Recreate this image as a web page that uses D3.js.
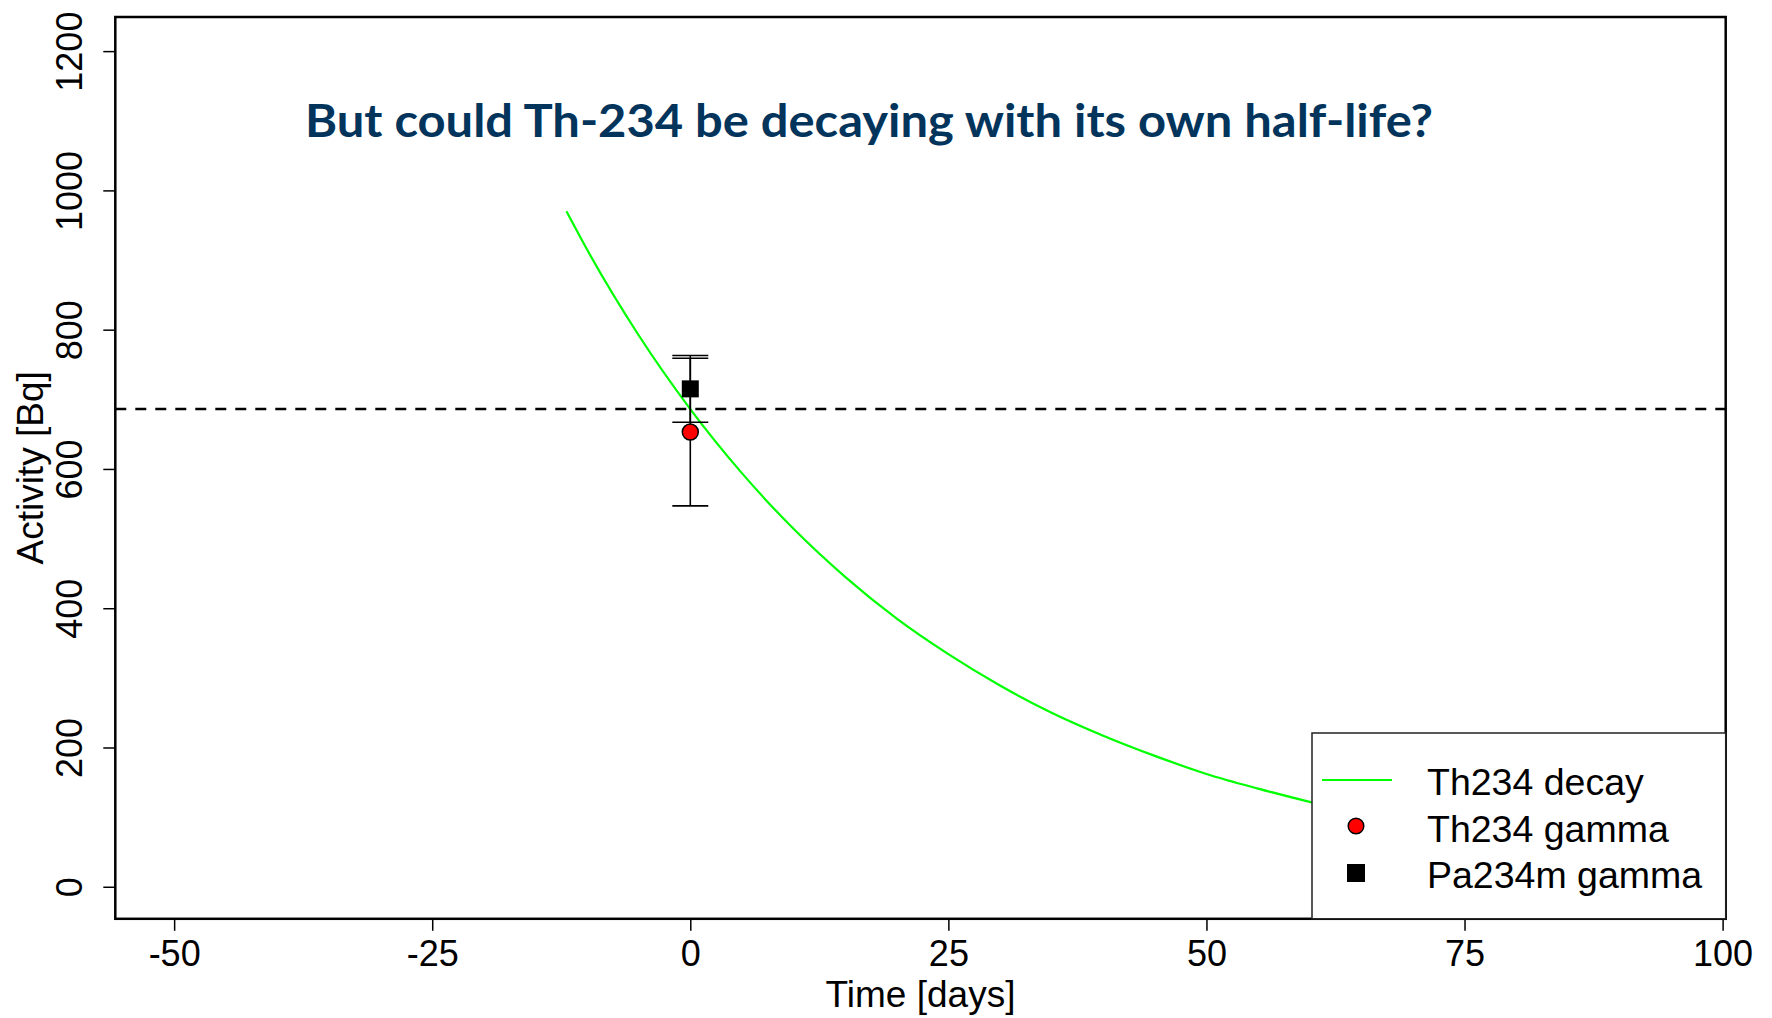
<!DOCTYPE html>
<html>
<head>
<meta charset="utf-8">
<script src="https://cdn.jsdelivr.net/npm/d3@7"></script>
<style>
    body { margin: 0; background: #ffffff; }
    svg { display: block; font-family: "Liberation Sans", Arial, sans-serif; }
</style>
</head>
<body>
<svg id="chart" width="1772" height="1018"></svg>
<script>

/*    ========    DATA    =========    */

// Th234 decay curve (time [days], activity [Bq])
var decayTime     = [-12, -10, -5, 0, 5, 10, 15, 20, 25, 30, 35, 40, 45, 50, 55, 60, 65, 70, 80, 90, 100];
var decayActivity = [970, 915, 792, 686, 594, 514, 445, 385, 334, 289, 250, 217, 188, 162, 141, 122, 105, 91, 68, 51, 38];

// measured points at t = 0
var gammaNames  = ["Th234 gamma", "Pa234m gamma"];
var gammaTime   = [0, 0];
var gammaValue  = [653, 715];
var gammaError  = [106, 48];

var equilibrium = 686;   // dashed horizontal line

var legendNames = ["Th234 decay", "Th234 gamma", "Pa234m gamma"];

var xTicks = [-50, -25, 0, 25, 50, 75, 100];
var yTicks = [0, 200, 400, 600, 800, 1000, 1200];

var titleText = "But could Th-234 be decaying with its own half-life?";

/*    ========    SETTINGS    =========    */

var svg = d3.select("#chart");

var X_RANGE = [-55.7, 100.3];
var Y_RANGE = [-46, 1249];

// NB: `top` is a read-only window global, hence the prefixed names
var plotLeft = 115.3, plotRight = 1725.7, plotTop = 17, plotBottom = 918.8;

var scale_x = d3.scaleLinear().domain(X_RANGE).range([plotLeft, plotRight]);
var scale_y = d3.scaleLinear().domain(Y_RANGE).range([plotBottom, plotTop]);

var defs = svg.append("defs");
defs.append("clipPath")
    .attr("id", "mask")
    .append("rect")
    .attr("x", plotLeft)
    .attr("y", plotTop)
    .attr("width", plotRight - plotLeft)
    .attr("height", plotBottom - plotTop);

/*    ========    AXES    =========    */

// plain hyphen for negatives, like the original
var fmt = function(d) { return String(d); };

var axis_x = d3.axisBottom(scale_x).tickValues(xTicks).tickSize(12).tickFormat(fmt);
var axis_y = d3.axisLeft(scale_y).tickValues(yTicks).tickSize(12).tickFormat(fmt);

var gx = svg.append("g")
    .attr("transform", "translate(0," + plotBottom + ")")
    .call(axis_x);
gx.select(".domain").remove();
gx.selectAll("line").attr("stroke", "#000").attr("stroke-width", 1.5);
gx.selectAll("text")
    .attr("y", 47)
    .attr("dy", 0)
    .attr("fill", "#000")
    .style("font-size", "36px")
    .style("font-family", "'Liberation Sans', Arial, sans-serif");

var gy = svg.append("g")
    .attr("transform", "translate(" + plotLeft + ",0)")
    .call(axis_y);
gy.select(".domain").remove();
gy.selectAll("line").attr("stroke", "#000").attr("stroke-width", 1.5);
gy.selectAll("text")
    .attr("x", 0)
    .attr("dy", 0)
    .attr("text-anchor", "middle")
    .attr("transform", "translate(-33,0) rotate(-90)")
    .attr("fill", "#000")
    .style("font-size", "36px")
    .style("font-family", "'Liberation Sans', Arial, sans-serif");

// axis titles
svg.append("text")
    .attr("x", (plotLeft + plotRight) / 2)
    .attr("y", 1007)
    .attr("text-anchor", "middle")
    .style("font-size", "37px")
    .text("Time [days]");

svg.append("text")
    .attr("transform", "translate(43," + ((plotTop + plotBottom) / 2) + ") rotate(-90)")
    .attr("text-anchor", "middle")
    .style("font-size", "37px")
    .text("Activity [Bq]");

/*    ========    PLOTS    =========    */

var plots = svg.append("g").attr("clip-path", "url(#mask)");

// equilibrium level
plots.append("line")
    .attr("x1", plotLeft)
    .attr("x2", plotRight)
    .attr("y1", scale_y(equilibrium))
    .attr("y2", scale_y(equilibrium))
    .attr("stroke", "#000")
    .attr("stroke-width", 2.5)
    .attr("stroke-dasharray", "11,9");

// Th234 decay
var line_decay = d3.line()
    .x(function(d, i) { return scale_x(decayTime[i]); })
    .y(function(d) { return scale_y(d); })
    .curve(d3.curveMonotoneX);

plots.append("path")
    .datum(decayActivity)
    .attr("d", line_decay)
    .attr("fill", "none")
    .attr("stroke", "#00ff00")
    .attr("stroke-width", 2.2);

// error bars
var bars = plots.selectAll(".err")
    .data(gammaValue)
    .enter().append("g")
    .attr("class", "err")
    .attr("stroke", "#000")
    .attr("stroke-width", 1.6);

bars.append("line")
    .attr("x1", function(d, i) { return scale_x(gammaTime[i]); })
    .attr("x2", function(d, i) { return scale_x(gammaTime[i]); })
    .attr("y1", function(d, i) { return scale_y(d - gammaError[i]); })
    .attr("y2", function(d, i) { return scale_y(d + gammaError[i]); });

[-1, 1].forEach(function(s) {
    bars.append("line")
        .attr("x1", function(d, i) { return scale_x(gammaTime[i]) - 18; })
        .attr("x2", function(d, i) { return scale_x(gammaTime[i]) + 18; })
        .attr("y1", function(d, i) { return scale_y(d + s * gammaError[i]); })
        .attr("y2", function(d, i) { return scale_y(d + s * gammaError[i]); });
});

// Th234 gamma (circle)
plots.append("circle")
    .attr("cx", scale_x(gammaTime[0]))
    .attr("cy", scale_y(gammaValue[0]))
    .attr("r", 8)
    .attr("fill", "#ff0000")
    .attr("stroke", "#000")
    .attr("stroke-width", 1.5);

// Pa234m gamma (square)
plots.append("rect")
    .attr("x", scale_x(gammaTime[1]) - 8.5)
    .attr("y", scale_y(gammaValue[1]) - 8.5)
    .attr("width", 17)
    .attr("height", 17)
    .attr("fill", "#000");

/*    ========    FRAME + LEGEND    =========    */

svg.append("rect")
    .attr("x", plotLeft)
    .attr("y", plotTop)
    .attr("width", plotRight - plotLeft)
    .attr("height", plotBottom - plotTop)
    .attr("fill", "none")
    .attr("stroke", "#000")
    .attr("stroke-width", 2.5);

var legend = svg.append("g");

legend.append("rect")
    .attr("x", 1312)
    .attr("y", 733)
    .attr("width", plotRight - 1312)
    .attr("height", plotBottom - 733)
    .attr("fill", "#fff")
    .attr("stroke", "#222")
    .attr("stroke-width", 1.5);

legend.append("line")
    .attr("x1", 1322).attr("x2", 1392)
    .attr("y1", 780).attr("y2", 780)
    .attr("stroke", "#00ff00")
    .attr("stroke-width", 2.2);

legend.append("circle")
    .attr("cx", 1356).attr("cy", 826)
    .attr("r", 7.8)
    .attr("fill", "#ff0000")
    .attr("stroke", "#000")
    .attr("stroke-width", 1.5);

legend.append("rect")
    .attr("x", 1347).attr("y", 864)
    .attr("width", 18).attr("height", 18)
    .attr("fill", "#000");

legend.selectAll(".ltext")
    .data(legendNames)
    .enter().append("text")
    .attr("class", "ltext")
    .attr("x", 1427)
    .attr("y", function(d, i) { return 795 + i * 46.5; })
    .style("font-size", "37.5px")
    .text(function(d) { return d; });

/*    ========    TITLE    =========    */

svg.append("text")
    .attr("x", 305)
    .attr("y", 137)
    .attr("textLength", 1128)
    .attr("lengthAdjust", "spacingAndGlyphs")
    .attr("fill", "#03345c")
    .style("font-family", "Lato, 'Open Sans', sans-serif")
    .style("font-weight", "bold")
    .style("font-size", "46px")
    .text(titleText);

</script>
</body>
</html>
